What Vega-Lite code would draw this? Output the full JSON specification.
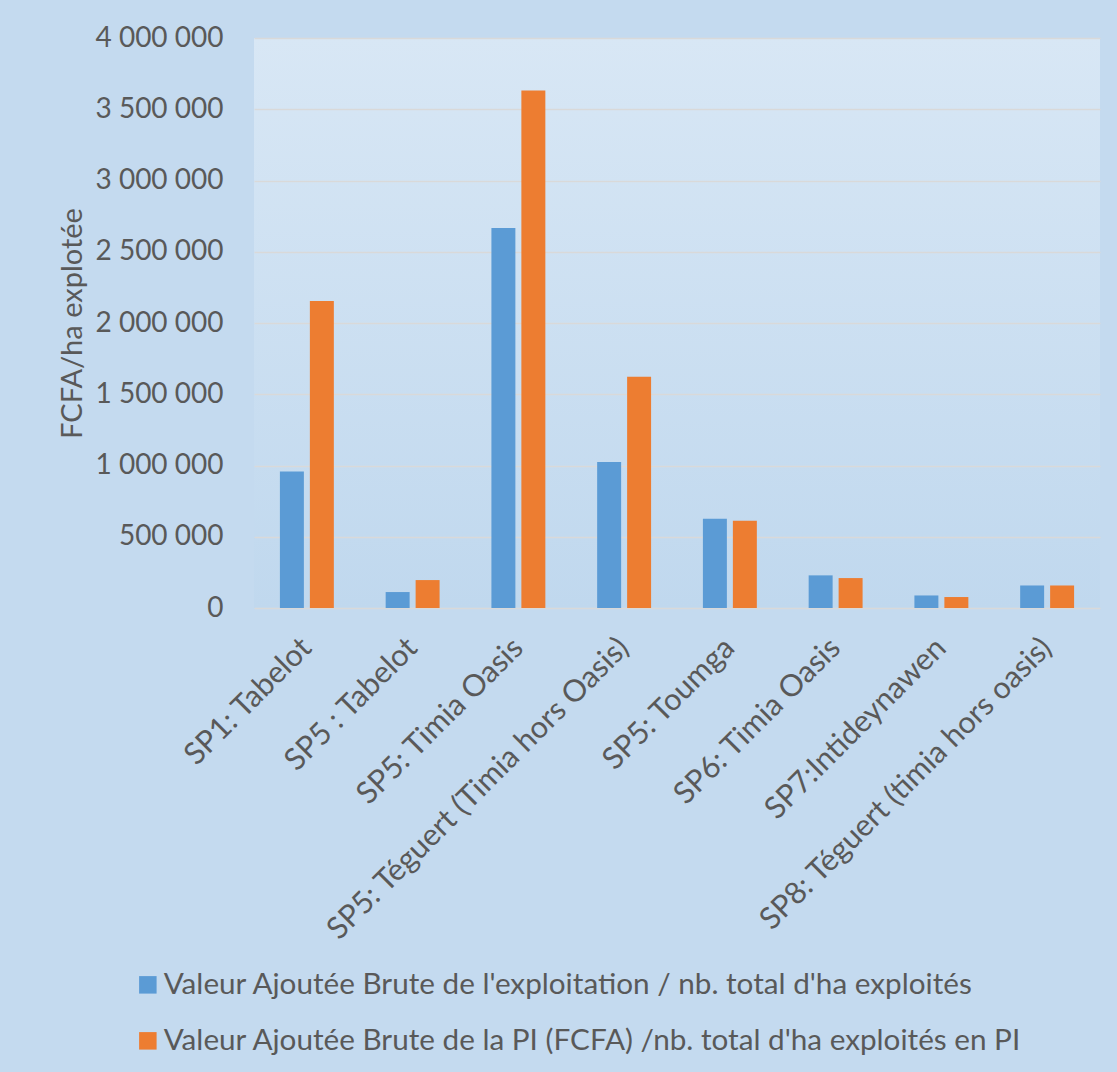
{
  "$schema": "https://vega.github.io/schema/vega-lite/v6.json",
  "width": 846,
  "height": 570,
  "autosize": {"type": "none"},
  "padding": {"left": 254, "top": 38, "right": 17, "bottom": 464},
  "background": "#c4daef",
  "config": {
    "locale": {
      "number": {"decimal": ",", "thousands": " ", "grouping": [3], "currency": ["", " FCFA"]}
    },
    "font": "Lato",
    "view": {
      "stroke": null,
      "fill": {
        "gradient": "linear",
        "x1": 0, "y1": 0, "x2": 0, "y2": 1,
        "stops": [
          {"offset": 0, "color": "#d8e7f5"},
          {"offset": 1, "color": "#c0d8ee"}
        ]
      }
    },
    "axis": {
      "labelFont": "Lato",
      "titleFont": "Lato",
      "labelColor": "#595959",
      "titleColor": "#595959",
      "titleFontWeight": "normal"
    },
    "legend": {"labelFont": "Lato"}
  },
  "data": {
    "values": [
      {"site": "SP1: Tabelot", "serie": "Valeur Ajoutée Brute de l'exploitation / nb. total d'ha exploités", "valeur": 958000},
      {"site": "SP1: Tabelot", "serie": "Valeur Ajoutée Brute de la PI (FCFA) /nb. total d'ha exploités en PI", "valeur": 2155000},
      {"site": "SP5 : Tabelot", "serie": "Valeur Ajoutée Brute de l'exploitation / nb. total d'ha exploités", "valeur": 112000},
      {"site": "SP5 : Tabelot", "serie": "Valeur Ajoutée Brute de la PI (FCFA) /nb. total d'ha exploités en PI", "valeur": 196000},
      {"site": "SP5: Timia Oasis", "serie": "Valeur Ajoutée Brute de l'exploitation / nb. total d'ha exploités", "valeur": 2667000},
      {"site": "SP5: Timia Oasis", "serie": "Valeur Ajoutée Brute de la PI (FCFA) /nb. total d'ha exploités en PI", "valeur": 3632000},
      {"site": "SP5: Téguert (Timia hors Oasis)", "serie": "Valeur Ajoutée Brute de l'exploitation / nb. total d'ha exploités", "valeur": 1024000},
      {"site": "SP5: Téguert (Timia hors Oasis)", "serie": "Valeur Ajoutée Brute de la PI (FCFA) /nb. total d'ha exploités en PI", "valeur": 1622000},
      {"site": "SP5: Toumga", "serie": "Valeur Ajoutée Brute de l'exploitation / nb. total d'ha exploités", "valeur": 626000},
      {"site": "SP5: Toumga", "serie": "Valeur Ajoutée Brute de la PI (FCFA) /nb. total d'ha exploités en PI", "valeur": 612000},
      {"site": "SP6: Timia Oasis", "serie": "Valeur Ajoutée Brute de l'exploitation / nb. total d'ha exploités", "valeur": 229000},
      {"site": "SP6: Timia Oasis", "serie": "Valeur Ajoutée Brute de la PI (FCFA) /nb. total d'ha exploités en PI", "valeur": 210000},
      {"site": "SP7:Intideynawen", "serie": "Valeur Ajoutée Brute de l'exploitation / nb. total d'ha exploités", "valeur": 88000},
      {"site": "SP7:Intideynawen", "serie": "Valeur Ajoutée Brute de la PI (FCFA) /nb. total d'ha exploités en PI", "valeur": 77000},
      {"site": "SP8: Téguert (timia hors oasis)", "serie": "Valeur Ajoutée Brute de l'exploitation / nb. total d'ha exploités", "valeur": 158000},
      {"site": "SP8: Téguert (timia hors oasis)", "serie": "Valeur Ajoutée Brute de la PI (FCFA) /nb. total d'ha exploités en PI", "valeur": 158000}
    ]
  },
  "mark": {"type": "bar"},
  "encoding": {
    "x": {
      "field": "site",
      "type": "nominal",
      "sort": null,
      "title": null,
      "scale": {"paddingInner": 0.49, "paddingOuter": 0.245},
      "axis": {
        "labelAngle": -45,
        "labelAlign": "right",
        "labelBaseline": "middle",
        "labelFontSize": 30.5,
        "labelPadding": 35,
        "labelLimit": 600,
        "ticks": false,
        "domain": false,
        "grid": false
      }
    },
    "xOffset": {
      "field": "serie",
      "type": "nominal",
      "sort": null,
      "scale": {"paddingInner": 0.2, "paddingOuter": 0}
    },
    "y": {
      "field": "valeur",
      "type": "quantitative",
      "title": "FCFA/ha explotée",
      "scale": {"domain": [0, 4000000], "nice": false},
      "axis": {
        "values": [0, 500000, 1000000, 1500000, 2000000, 2500000, 3000000, 3500000, 4000000],
        "format": ",d",
        "labelFontSize": 28,
        "labelPadding": 31,
        "titleFontSize": 29,
        "titlePadding": 7,
        "ticks": false,
        "domain": false,
        "gridColor": "#d9d9d9",
        "gridWidth": 1.5
      }
    },
    "color": {
      "field": "serie",
      "type": "nominal",
      "sort": null,
      "scale": {"range": ["#5b9bd5", "#ed7d31"]},
      "legend": {
        "title": null,
        "orient": "none",
        "legendX": -121,
        "legendY": 932,
        "direction": "vertical",
        "symbolType": "square",
        "symbolSize": 306,
        "symbolStrokeWidth": 0,
        "labelFontSize": 29.7,
        "labelColor": "#595959",
        "labelLimit": 1000,
        "labelOffset": 1,
        "rowPadding": 25
      }
    }
  }
}
